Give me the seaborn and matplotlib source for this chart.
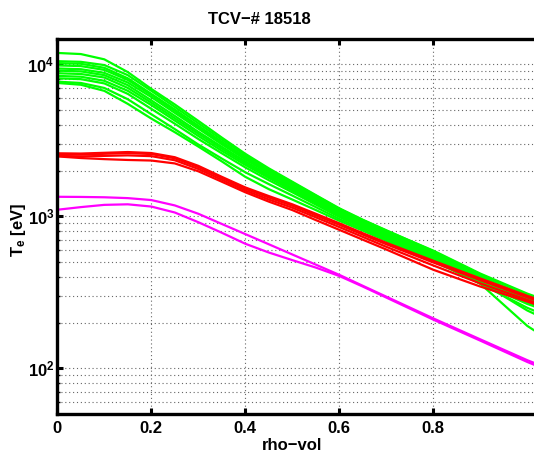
import numpy as np
import pandas as pd
import matplotlib
matplotlib.use("Agg")
import matplotlib.pyplot as plt
from matplotlib.ticker import FixedLocator, FixedFormatter, LogLocator, NullFormatter
import seaborn as sns

# Normalised radius (rho-vol) sample points shared by every profile
rho = [0.0, 0.05, 0.10, 0.15, 0.20, 0.25, 0.30, 0.35, 0.40, 0.45, 0.50,
       0.55, 0.60, 0.65, 0.70, 0.80, 0.90, 1.00, 1.04]

# Electron temperature profiles [eV], group 1 (green)
te_green = [
    [11900, 11700, 10800, 8900, 6900, 5450, 4250, 3300, 2580, 2070, 1690, 1380, 1130, 950, 810, 590, 415, 305, 275],
    [10500, 10400, 9900, 8500, 6700, 5250, 4100, 3200, 2530, 2040, 1670, 1370, 1120, 945, 805, 595, 420, 310, 280],
    [10200, 10100, 9500, 8100, 6400, 5050, 3950, 3100, 2460, 1990, 1630, 1340, 1100, 930, 795, 580, 405, 295, 265],
    [9850, 9750, 9200, 7900, 6300, 4950, 3880, 3050, 2420, 1960, 1610, 1320, 1085, 920, 785, 575, 400, 290, 262],
    [9400, 9300, 8800, 7600, 6100, 4800, 3780, 2980, 2370, 1920, 1580, 1300, 1070, 905, 775, 565, 395, 282, 255],
    [9100, 9000, 8500, 7300, 5800, 4580, 3600, 2870, 2300, 1870, 1540, 1270, 1050, 890, 760, 555, 385, 275, 250],
    [8750, 8650, 8200, 7000, 5600, 4420, 3500, 2790, 2240, 1830, 1510, 1250, 1030, 875, 750, 545, 370, 240, 210],
    [8400, 8300, 7800, 6700, 5400, 4270, 3380, 2700, 2180, 1790, 1480, 1225, 1010, 860, 735, 535, 375, 270, 245],
    [8100, 8000, 7500, 6400, 5100, 4070, 3230, 2600, 2100, 1730, 1440, 1195, 990, 845, 720, 525, 360, 250, 222],
    [7700, 7550, 7000, 5900, 4700, 3750, 2970, 2400, 1950, 1630, 1370, 1150, 960, 825, 705, 515, 360, 190, 158],
    [7550, 7350, 6700, 5500, 4400, 3580, 2880, 2300, 1820, 1510, 1290, 1100, 935, 805, 690, 505, 365, 265, 240],
]

# Electron temperature profiles [eV], group 2 (red)
te_red = [
    [2600, 2590, 2620, 2650, 2610, 2450, 2150, 1820, 1550, 1360, 1200, 1040, 900, 775, 670, 510, 390, 300, 272],
    [2560, 2550, 2580, 2610, 2570, 2410, 2110, 1790, 1520, 1330, 1175, 1015, 880, 758, 655, 497, 380, 293, 266],
    [2500, 2480, 2500, 2520, 2490, 2340, 2050, 1740, 1480, 1290, 1140, 985, 850, 732, 630, 475, 362, 282, 256],
    [2480, 2420, 2380, 2350, 2330, 2230, 1980, 1690, 1440, 1250, 1100, 945, 815, 702, 605, 445, 345, 275, 250],
]

# Electron temperature profiles [eV], group 3 (magenta)
te_magenta = [
    [1345, 1342, 1335, 1318, 1280, 1180, 1040, 891, 764, 655, 561, 481, 412, 349, 296, 213, 155, 113, 101],
    [1105, 1150, 1190, 1200, 1160, 1060, 915, 780, 660, 578, 515, 460, 405, 345, 292, 209, 152, 110, 98],
]

group_colors = {"green": (0, 1, 0), "red": (1, 0, 0), "magenta": (1, 0, 1)}

x_ticks = [0, 0.2, 0.4, 0.6, 0.8]
x_tick_labels = ["0", "0.2", "0.4", "0.6", "0.8"]
y_ticks = [1e2, 1e3, 1e4]
y_tick_labels = [r"$\mathbf{10^{2}}$", r"$\mathbf{10^{3}}$", r"$\mathbf{10^{4}}$"]

# Long-form table: one row per (profile, radius) sample
rows = []
for name, profiles in (("green", te_green), ("red", te_red), ("magenta", te_magenta)):
    for k, prof in enumerate(profiles):
        for r, t in zip(rho, prof):
            rows.append({"group": name, "curve": f"{name}{k}", "rho": r, "Te": t})
df = pd.DataFrame(rows)

sns.set_theme(style="white")
plt.rcParams["font.family"] = ["Liberation Sans", "DejaVu Sans"]
plt.rcParams["font.weight"] = "bold"
plt.rcParams["text.color"] = "black"
plt.rcParams["xtick.color"] = "black"
plt.rcParams["ytick.color"] = "black"
plt.rcParams["mathtext.fontset"] = "custom"
plt.rcParams["mathtext.rm"] = "Liberation Sans:bold"
plt.rcParams["mathtext.bf"] = "Liberation Sans:bold"
plt.rcParams["mathtext.it"] = "Liberation Sans:bold"

fig = plt.figure(figsize=(5.34, 4.54), dpi=100)
ax = fig.add_axes([57.3 / 534, 40 / 454, 488.8 / 534, 375 / 454])

sns.lineplot(data=df, x="rho", y="Te", hue="group", units="curve", estimator=None,
             palette=group_colors, hue_order=["green", "red", "magenta"],
             linewidth=1.6, legend=False, sort=False, ax=ax)

ax.set_yscale("log")
ax.set_xlim(0, 1.04)
ax.set_ylim(50, 14700)

ax.xaxis.set_major_locator(FixedLocator(x_ticks))
ax.xaxis.set_major_formatter(FixedFormatter(x_tick_labels))
ax.yaxis.set_major_locator(FixedLocator(y_ticks))
ax.yaxis.set_major_formatter(FixedFormatter(y_tick_labels))
ax.yaxis.set_minor_locator(LogLocator(base=10, subs=np.arange(2, 10)))
ax.yaxis.set_minor_formatter(NullFormatter())

grid_kw = dict(color="0.4", linewidth=0.8, linestyle=(0, (1, 2.5)))
ax.grid(True, which="major", axis="x", **grid_kw)
ax.grid(True, which="both", axis="y", **grid_kw)
ax.set_axisbelow(True)

for side in ("left", "bottom", "top"):
    ax.spines[side].set_visible(True)
    ax.spines[side].set_linewidth(2.4)
    ax.spines[side].set_color("black")
ax.spines["right"].set_visible(False)

ax.tick_params(axis="x", which="major", direction="in", top=True, bottom=True,
               length=4, width=2.2, color="black", labelcolor="black",
               labelsize=12, pad=5)
ax.tick_params(axis="y", which="major", direction="in", left=True, right=False,
               length=4, width=2.2, color="black", labelcolor="black",
               labelsize=12, pad=2)
ax.tick_params(axis="y", which="minor", direction="in", left=True, right=False,
               length=2, width=1, color="black")
for lab in ax.get_xticklabels():
    lab.set_fontweight("bold")

ax.set_xlabel("")
ax.set_ylabel("")
fig.text(292.5 / 534, 1 - 445 / 454, "rho\u2212vol", ha="center", va="center",
         fontsize=12, fontweight="bold", color="black")
fig.text(19 / 534, 1 - 229.5 / 454, r"$\mathbf{T_e}$ [eV]", ha="center", va="center",
         rotation=90, fontsize=12, fontweight="bold", color="black")
fig.text(259.5 / 534, 1 - 19.5 / 454, "TCV\u2212# 18518", ha="center", va="center",
         fontsize=12, fontweight="bold", color="black")

fig.savefig("out.png", dpi=100, facecolor="white")
